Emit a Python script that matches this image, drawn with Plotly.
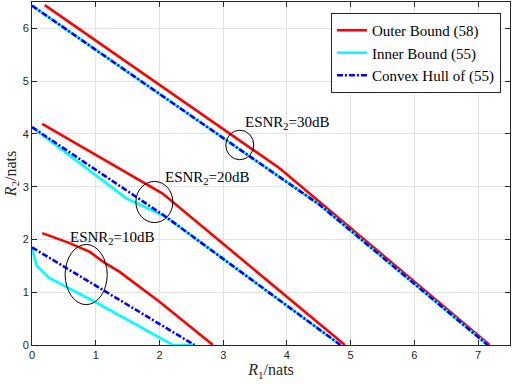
import plotly.graph_objects as go

# ---- data ----
outer_10_r1 = [0.16, 0.55, 0.90, 1.16, 1.37, 2.00, 2.84]
outer_10_r2 = [2.12, 1.95, 1.77, 1.54, 1.39, 0.82, 0.00]
outer_20_r1 = [0.16, 2.05, 4.91]
outer_20_r2 = [4.19, 2.87, 0.00]
outer_30_r1 = [0.20, 3.885, 7.18]
outer_30_r2 = [6.44, 3.35, 0.00]

inner_10_r1 = [0.00, 0.07, 0.27, 1.00, 2.21, 2.55]
inner_10_r2 = [1.85, 1.51, 1.27, 0.81, 0.00, 0.00]
inner_20_r1 = [0.00, 1.48, 2.10, 4.84]
inner_20_r2 = [4.13, 2.78, 2.43, 0.00]
inner_30_r1 = [0.00, 4.51, 7.15]
inner_30_r2 = [6.43, 2.66, 0.00]

hull_10_r1 = [0.00, 2.55]
hull_10_r2 = [1.85, 0.00]
hull_20_r1 = [0.00, 2.10, 4.84]
hull_20_r2 = [4.13, 2.43, 0.00]
hull_30_r1 = [0.00, 4.51, 7.15]
hull_30_r2 = [6.43, 2.66, 0.00]

series_names = ["Outer Bound (58)", "Inner Bound (55)", "Convex Hull of (55)"]
x_ticks = [0, 1, 2, 3, 4, 5, 6, 7]
y_ticks = [0, 1, 2, 3, 4, 5, 6]

ellipse_cx = [0.85, 1.92, 3.26]
ellipse_cy = [1.335, 2.71, 3.79]
ellipse_rx = [0.33, 0.29, 0.22]
ellipse_ry = [0.57, 0.39, 0.28]

label_text = ["ESNR<sub>2</sub>=10dB", "ESNR<sub>2</sub>=20dB", "ESNR<sub>2</sub>=30dB"]
label_x = [0.59, 2.08, 3.34]
label_y = [2.03, 3.16, 4.20]

SERIF = "Liberation Serif, Times New Roman, serif"
SANS = "Liberation Sans, Arial, sans-serif"

fig = go.Figure()

styles = [
    dict(color="#FF0000", width=2.6, dash="solid"),
    dict(color="#00FFFF", width=2.6, dash="solid"),
    dict(color="#0000FF", width=2.6, dash="6px,2px,2px,2px"),
]
groups = [
    [(outer_10_r1, outer_10_r2), (outer_20_r1, outer_20_r2), (outer_30_r1, outer_30_r2)],
    [(inner_10_r1, inner_10_r2), (inner_20_r1, inner_20_r2), (inner_30_r1, inner_30_r2)],
    [(hull_10_r1, hull_10_r2), (hull_20_r1, hull_20_r2), (hull_30_r1, hull_30_r2)],
]
for gi, (name, st, curves) in enumerate(zip(series_names, styles, groups)):
    for ci, (xs, ys) in enumerate(curves):
        fig.add_trace(go.Scatter(
            x=xs, y=ys, mode="lines", name=name,
            showlegend=(ci == 0), line=st,
        ))

for cx, cy, rx, ry in zip(ellipse_cx, ellipse_cy, ellipse_rx, ellipse_ry):
    fig.add_shape(type="circle", xref="x", yref="y",
                  x0=cx - rx, x1=cx + rx, y0=cy - ry, y1=cy + ry,
                  line=dict(color="black", width=1))

for t, x, y in zip(label_text, label_x, label_y):
    fig.add_annotation(x=x, y=y, text=t, showarrow=False, xanchor="left",
                       yanchor="middle", xshift=-2,
                       font=dict(family=SERIF, size=15, color="black"))

axis_common = dict(
    showgrid=True, gridcolor="#E3E3E3", gridwidth=1,
    showline=True, linecolor="#262626", linewidth=1, mirror="ticks",
    ticks="inside", ticklen=5, tickcolor="#262626",
    tickfont=dict(family=SANS, size=11, color="#262626"),
    zeroline=False, automargin=False,
)
fig.update_xaxes(range=[0, 7.5], tickvals=x_ticks, **axis_common,
                 title=dict(text="<i>R</i><sub>1</sub>/nats", standoff=2,
                            font=dict(family=SERIF, size=16, color="#262626")))
fig.update_yaxes(range=[0, 6.5], tickvals=y_ticks, **axis_common,
                 title=dict(text="<i>R</i><sub>2</sub>/nats", standoff=2,
                            font=dict(family=SERIF, size=16, color="#262626")))

fig.update_layout(
    width=512, height=384,
    margin=dict(l=32, r=2, t=2, b=39),
    paper_bgcolor="white", plot_bgcolor="white",
    legend=dict(x=0.981, y=0.968, xanchor="right", yanchor="top",
                bgcolor="white", bordercolor="#262626", borderwidth=1,
                font=dict(family=SERIF, size=15, color="black"),
                tracegroupgap=0, itemwidth=30),
    showlegend=True,
)

fig.write_html("out.html",
               config={"displayModeBar": False},
               post_script="document.body.style.margin='0';document.body.style.overflow='hidden';")
